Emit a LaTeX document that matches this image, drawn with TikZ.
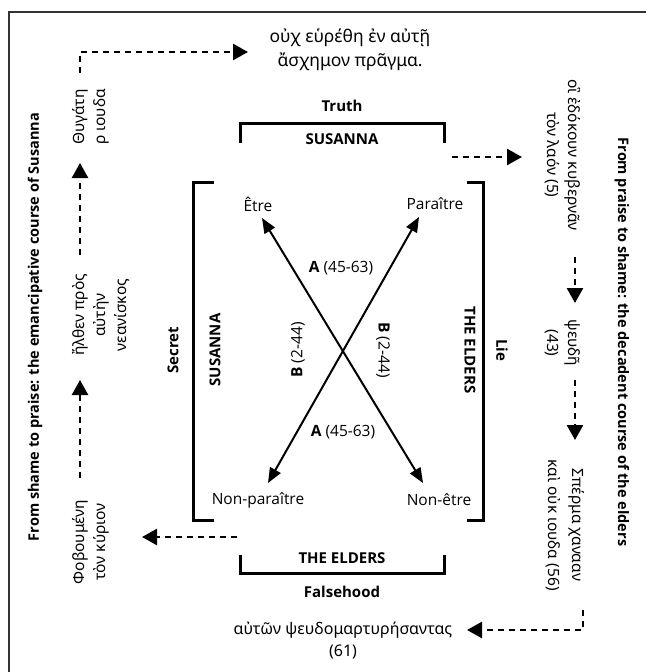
\documentclass[tikz,border=0pt]{standalone}
\usepackage{fontspec}
\setmainfont{Open Sans}
\newfontfamily\grk{Noto Sans}
\usetikzlibrary{arrows.meta,positioning}
\tikzset{
  lbl/.style={font=\fontsize{15.5}{21}\selectfont,align=center,inner sep=0pt},
  grkl/.style={lbl,font=\grk\fontsize{15.5}{21}\selectfont},
  ttl/.style={lbl,font=\fontsize{15}{20}\selectfont\bfseries},
  brk/.style={line width=3pt},
  dasharr/.style={line width=2.5pt,dash pattern=on 6pt off 5pt,-{Triangle[length=15pt,width=16pt]}},
  duo/.style={line width=2pt,{Triangle[length=15pt,width=12pt]}-{Triangle[length=15pt,width=12pt]}}
}
\begin{document}
\begin{tikzpicture}[x=1pt,y=-1pt]
\useasboundingbox (0,0) rectangle (646,672);
\draw[line width=1.5pt,black!80] (9,672) -- (9,12) -- (646,12);
\node[ttl,font=\fontsize{14.5}{20}\selectfont\bfseries,rotate=90] (left) at (35,327) {From shame to praise: the emancipative course of Susanna};
\node[ttl,font=\fontsize{14.5}{20}\selectfont\bfseries,rotate=-90] (right) at (622,342) {From praise to shame: the decadent course of the elders};
\node[grkl,font=\grk\fontsize{17.5}{24}\selectfont] (ouch) at (350,50) {οὐχ εὑρέθη ἐν αὐτῇ\\ἄσχημον πρᾶγμα.};
\node[grkl,rotate=90] (thug) at (91,117) {Θυγάτη\\ρ ιουδα};
\node[grkl,rotate=90] (ilthen) at (101,315) {ἤλθεν πρὸς\\αὐτὴν\\νεανίσκος};
\node[grkl,rotate=90] (fob) at (91,542) {Φοβουμένη\\τὸν κύριον};
\node[grkl,rotate=-90] (oi) at (563,155) {οἳ ἐδόκουν κυβερνᾶν\\τὸν λαόν (5)};
\node[grkl,rotate=-90] (pseude) at (563,343) {ψευδῆ\\(43)};
\node[grkl,rotate=-90,font=\grk\fontsize{15.5}{24}\selectfont] (sperma) at (565,525) {Σπέρμα χανααν\\καὶ οὐκ ιουδα (56)};
\node[grkl,font=\grk\fontsize{16}{22}\selectfont] (autwn) at (343,641) {αὐτῶν ψευδομαρτυρήσαντας\\(61)};
\node[ttl] (truth) at (342,106) {Truth};
\node[ttl] (susT) at (342,139) {SUSANNA};
\node[ttl] (eldB) at (342,558) {THE ELDERS};
\node[ttl] (false) at (342,592) {Falsehood};
\node[ttl,rotate=90] (secret) at (173,350) {Secret};
\node[ttl,rotate=90] (susL) at (215,350) {SUSANNA};
\node[ttl,rotate=-90] (eldR) at (470,350) {THE ELDERS};
\node[ttl,rotate=-90] (lie) at (502,350) {Lie};
\node[lbl] (etre) at (258,204) {Être};
\node[lbl] (para) at (435,204) {Paraître};
\node[lbl] (nonpara) at (258,500) {Non-paraître};
\node[lbl] (nonetre) at (439,500) {Non-être};
\node[lbl] (aT) at (341,268) {\textbf{A} (45-63)};
\node[lbl] (aB) at (343,432) {\textbf{A} (45-63)};
\node[lbl,rotate=90] (bL) at (298,350) {\textbf{B} (2-44)};
\node[lbl,rotate=-90] (bR) at (383,350) {\textbf{B} (2-44)};
\draw[brk] (240,143) |- (444,123) -- (444,143);
\draw[brk] (240,555) |- (444,573) -- (444,555);
\draw[brk] (214,182) -| (193,520) -- (214,520);
\draw[brk] (467,182) -| (483,520) -- (467,520);
\draw[duo] ([shift={(4,14)}]etre.center) -- ([shift={(-16,-17)}]nonetre.center);
\draw[duo] ([shift={(-16,13)}]para.center) -- ([shift={(10,-17)}]nonpara.center);
\coordinate (fromS) at (452,157);
\coordinate (fromE) at (237,537);
\draw[dasharr] ([shift={(-11,-44)}]thug.center) |- ([shift={(-102,2)}]ouch.center);
\draw[dasharr] ([shift={(-21,-60)}]ilthen.center) -- ([shift={(-11,46)}]thug.center);
\draw[dasharr] ([shift={(-11,-64)}]fob.center) -- ([shift={(-21,65)}]ilthen.center);
\draw[dasharr] (fromE) -- ([shift={(51,-5)}]fob.center);
\draw[dasharr] (fromS) -- ([shift={(-41,2)}]oi.center);
\draw[dasharr] ([shift={(12,102)}]oi.center) -- ([shift={(12,-40)}]pseude.center);
\draw[dasharr] ([shift={(12,37)}]pseude.center) -- ([shift={(10,-85)}]sperma.center);
\draw[dasharr] ([shift={(18,85)}]sperma.center) |- ([shift={(124,-11)}]autwn.center);
\end{tikzpicture}
\end{document}
